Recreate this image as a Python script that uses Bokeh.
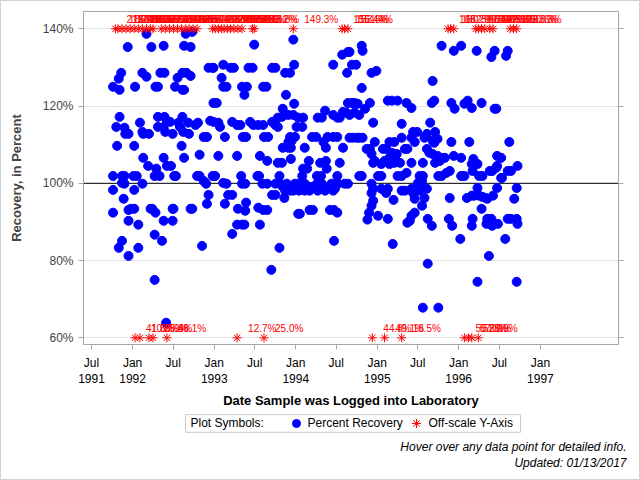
from datetime import datetime

import numpy as np
from bokeh.core.properties import value
from bokeh.embed import file_html
from bokeh.layouts import column
from bokeh.models import (ColumnDataSource, FixedTicker, LabelSet, LinearAxis,
                          PrintfTickFormatter, Range1d, Span, Title)
from bokeh.plotting import figure
from bokeh.resources import INLINE

FONT = "Liberation Sans"
GRAY = "#a6a6a6"

# Percent recovery by log-in date (decimal year), grouped by period
dates_1991_92 = [
    1992.17, 1992.65, 1992.73, 1991.94, 1992.23, 1992.38, 1992.63, 1992.71, 1991.86, 1991.83,
    1992.12, 1992.17, 1992.34, 1992.39, 1992.55, 1992.61, 1992.66, 1992.71, 1992.93, 1992.98,
    1991.76, 1991.84, 1992.03, 1992.28, 1992.31, 1992.52, 1992.61, 1992.63, 1992.99, 1991.84,
    1991.80, 1991.90, 1991.91, 1991.95, 1992.09, 1992.12, 1992.13, 1992.20, 1992.31, 1992.39,
    1992.42, 1992.46, 1992.31, 1992.38, 1992.40, 1992.49, 1992.56, 1992.58, 1992.61, 1992.62,
    1992.68, 1992.69, 1992.77, 1992.80, 1992.87, 1992.91, 1992.95, 1991.81, 1992.02, 1992.60,
    1992.82, 1992.13, 1992.38, 1992.63, 1992.19, 1992.29, 1992.42, 1992.47, 1991.76, 1991.87,
    1991.90, 1992.01, 1992.05, 1992.27, 1992.33, 1992.51, 1992.53, 1992.79, 1992.82, 1992.98,
    1991.87, 1991.90, 1992.12, 1992.87, 1992.90, 1991.76, 1992.02, 1992.93, 1991.89, 1992.91,
    1991.76, 1991.95, 1991.98, 1992.02, 1992.22, 1992.24, 1992.28, 1992.49, 1992.50, 1992.71,
    1992.73, 1991.95, 1992.07, 1992.38, 1992.49, 1992.27, 1991.87, 1991.83, 1991.95, 1992.07,
    1992.36, 1992.85, 1992.27, 1992.41,
]
recovery_1991_92 = [
    138.7, 138.7, 139.2, 135.3, 135.3, 135.6, 135.6, 135.3, 128.6, 127.1,
    128.6, 127.6, 128.6, 128.6, 127.3, 128.6, 128.6, 127.8, 129.9, 129.9,
    125.0, 124.2, 125.0, 125.0, 125.0, 125.0, 124.2, 124.2, 120.8, 117.2,
    114.6, 114.4, 112.8, 112.8, 115.7, 113.3, 112.8, 112.8, 117.2, 117.2,
    116.2, 115.9, 114.6, 114.6, 113.3, 112.8, 115.7, 114.6, 117.2, 113.3,
    115.7, 112.8, 115.1, 115.7, 112.0, 112.0, 116.2, 109.7, 109.7, 109.7,
    107.4, 106.6, 106.6, 106.6, 104.5, 103.8, 104.5, 104.5, 101.9, 101.9,
    101.9, 101.9, 101.9, 101.9, 101.9, 101.9, 101.9, 101.9, 101.9, 101.9,
    100.1, 99.9, 99.9, 100.6, 99.9, 98.3, 98.3, 97.0, 96.0, 94.7,
    92.4, 93.1, 93.4, 93.4, 93.4, 93.4, 92.4, 93.4, 93.4, 93.4,
    93.4, 90.3, 89.3, 90.3, 90.3, 86.7, 85.1, 83.3, 81.2, 83.3,
    85.1, 83.8, 75.0, 63.9,
]

dates_1993_94 = [
    1993.49, 1993.97, 1992.99, 1993.11, 1993.20, 1993.24, 1993.42, 1993.47, 1993.71, 1993.75,
    1993.87, 1993.93, 1993.98, 1994.46, 1994.57, 1994.64, 1994.63, 1993.09, 1993.11, 1993.15,
    1993.34, 1993.40, 1993.60, 1993.64, 1993.37, 1993.88, 1993.03, 1993.84, 1993.98, 1994.36,
    1994.64, 1992.99, 1993.05, 1993.07, 1993.22, 1993.28, 1993.32, 1993.44, 1993.48, 1993.54,
    1993.60, 1993.71, 1993.75, 1993.78, 1993.83, 1993.91, 1993.97, 1994.03, 1994.09, 1994.01,
    1994.08, 1994.27, 1994.32, 1994.46, 1994.51, 1994.54, 1994.58, 1993.78, 1993.13, 1993.35,
    1993.39, 1993.61, 1993.66, 1993.93, 1993.99, 1993.95, 1993.91, 1994.20, 1994.25, 1994.34,
    1994.39, 1994.46, 1994.51, 1993.84, 1993.91, 1993.94, 1994.11, 1994.37, 1994.58, 1993.05,
    1993.28, 1993.56, 1993.65, 1993.94, 1994.16, 1993.78, 1993.83, 1994.30, 1994.37, 1994.54,
    1994.09, 1994.14, 1994.38, 1993.01, 1993.33, 1993.53, 1993.55, 1993.80, 1994.08, 1994.26,
    1994.31, 1994.51, 1993.11, 1993.15, 1993.34, 1993.38, 1993.59, 1993.65, 1993.75, 1993.81,
    1993.84, 1993.89, 1993.93, 1993.99, 1994.03, 1994.08, 1994.11, 1994.17, 1994.21, 1994.26,
    1994.32, 1994.39, 1994.44, 1994.48, 1994.52, 1994.60, 1994.64, 1993.87, 1993.93, 1993.97,
    1994.04, 1994.11, 1994.17, 1994.27, 1994.36, 1994.46, 1993.17, 1993.22, 1993.71, 1993.75,
    1993.86, 1993.13, 1993.39, 1993.38, 1993.29, 1993.54, 1993.60, 1993.65, 1994.17, 1994.21,
    1994.42, 1994.47, 1994.51, 1994.03, 1994.05, 1993.28, 1993.34, 1993.37, 1993.56, 1993.22,
    1993.80, 1993.70, 1994.47,
]
recovery_1993_94 = [
    135.9, 137.2, 129.9, 130.7, 129.9, 129.9, 129.9, 129.9, 129.9, 129.9,
    128.6, 128.6, 130.7, 130.7, 133.3, 134.0, 128.6, 127.3, 125.0, 125.0,
    125.0, 125.0, 125.0, 125.0, 122.9, 122.9, 120.8, 119.3, 120.6, 118.8,
    120.8, 115.9, 115.7, 114.6, 115.9, 115.1, 115.1, 115.9, 115.1, 115.1,
    115.1, 115.9, 115.1, 117.0, 117.2, 117.7, 117.7, 117.0, 117.0, 114.6,
    114.6, 117.0, 117.0, 117.7, 117.0, 117.0, 118.5, 114.6, 112.0, 112.0,
    112.0, 112.0, 112.0, 112.0, 112.0, 111.0, 110.7, 112.0, 112.0, 110.7,
    112.0, 112.0, 112.0, 109.2, 109.2, 109.2, 109.2, 109.2, 109.2, 107.1,
    107.1, 107.1, 105.8, 106.3, 105.8, 105.3, 105.3, 105.3, 105.8, 105.3,
    103.8, 103.8, 103.8, 101.9, 101.9, 101.9, 101.9, 101.9, 101.9, 101.9,
    101.9, 101.9, 100.1, 99.9, 99.9, 99.9, 99.9, 99.9, 99.9, 99.9,
    99.1, 99.9, 99.1, 99.9, 99.9, 99.9, 99.9, 99.1, 99.1, 99.9,
    99.9, 99.1, 99.9, 98.6, 99.9, 99.9, 99.9, 98.1, 98.1, 98.1,
    98.1, 98.1, 98.1, 98.1, 98.1, 98.1, 97.0, 97.0, 97.0, 97.0,
    96.2, 94.7, 95.0, 92.9, 93.4, 93.7, 93.1, 93.1, 93.1, 93.1,
    93.1, 93.1, 92.4, 92.1, 92.1, 89.3, 89.3, 89.3, 89.3, 86.9,
    83.3, 77.6, 85.1,
]

dates_1994_96 = [
    1994.81, 1994.82, 1994.66, 1995.79, 1995.94, 1996.03, 1996.22, 1994.69, 1994.74, 1994.93,
    1994.99, 1994.81, 1995.68, 1994.69, 1994.72, 1994.76, 1994.85, 1994.91, 1995.13, 1995.18,
    1995.25, 1995.36, 1995.42, 1995.67, 1995.70, 1995.91, 1995.95, 1996.07, 1996.11, 1996.16,
    1996.28, 1994.62, 1994.66, 1994.72, 1994.78, 1994.95, 1995.30, 1995.65, 1995.44, 1995.49,
    1995.61, 1995.71, 1995.74, 1994.66, 1994.70, 1994.75, 1994.78, 1994.82, 1995.30, 1995.42,
    1995.58, 1995.68, 1995.70, 1994.97, 1995.15, 1995.21, 1995.46, 1995.91, 1996.13, 1994.87,
    1994.91, 1995.07, 1995.11, 1995.18, 1995.21, 1995.24, 1995.34, 1995.37, 1995.61, 1995.64,
    1995.68, 1995.74, 1995.77, 1995.83, 1995.94, 1996.03, 1994.93, 1994.97, 1995.15, 1995.19,
    1994.95, 1995.05, 1995.09, 1995.15, 1995.21, 1995.28, 1995.42, 1995.56, 1995.71, 1995.75,
    1995.80, 1996.16, 1996.18, 1996.23, 1994.78, 1994.81, 1995.01, 1995.05, 1995.25, 1995.30,
    1995.36, 1995.52, 1995.56, 1995.75, 1995.79, 1995.85, 1995.89, 1996.03, 1996.07, 1996.17,
    1996.25, 1996.29, 1994.93, 1995.50, 1995.52, 1995.55, 1994.95, 1995.05, 1995.09, 1995.13,
    1995.30, 1995.34, 1995.42, 1995.44, 1995.52, 1995.61, 1996.23, 1994.93, 1995.11, 1995.20,
    1995.46, 1995.58, 1995.89, 1996.10, 1996.16, 1996.19, 1996.25, 1996.29, 1994.95, 1994.93,
    1995.55, 1996.28, 1994.90, 1994.88, 1995.01, 1995.13, 1995.42, 1995.46, 1995.40, 1995.37,
    1995.62, 1995.88, 1995.92, 1996.17, 1996.16, 1995.67, 1995.19, 1995.62, 1995.56, 1995.75,
    1996.02,
]
recovery_1994_96 = [
    135.6, 134.3, 134.0, 135.6, 134.3, 135.6, 134.3, 130.7, 130.7, 128.6,
    129.1, 124.7, 126.5, 120.8, 120.8, 120.6, 119.3, 120.8, 121.4, 121.4,
    121.4, 120.8, 119.5, 120.8, 121.4, 120.8, 119.3, 120.6, 121.4, 119.5,
    120.8, 118.3, 117.7, 118.3, 117.7, 115.7, 115.4, 115.7, 113.3, 113.3,
    112.8, 113.3, 111.5, 111.8, 111.8, 111.8, 111.8, 111.8, 111.8, 111.8,
    111.8, 111.0, 110.5, 110.7, 110.7, 110.7, 110.7, 110.7, 110.7, 108.9,
    108.9, 108.9, 108.9, 107.9, 106.6, 107.6, 108.9, 108.9, 108.9, 107.9,
    107.6, 107.1, 105.8, 106.6, 107.1, 106.6, 107.6, 105.8, 106.6, 105.8,
    105.3, 105.0, 105.8, 105.0, 105.3, 105.3, 105.3, 105.3, 105.3, 105.8,
    106.6, 105.0, 106.3, 105.0, 101.9, 101.9, 101.9, 101.9, 101.9, 101.9,
    102.7, 101.9, 101.9, 101.9, 101.9, 102.7, 103.2, 101.9, 101.9, 103.2,
    101.9, 101.9, 99.9, 100.1, 99.4, 100.6, 98.6, 98.6, 98.1, 98.6,
    98.1, 98.1, 98.6, 97.5, 98.1, 98.6, 98.8, 97.5, 97.5, 95.7,
    96.0, 96.2, 96.2, 96.2, 96.8, 96.8, 96.8, 96.5, 95.5, 94.2,
    94.2, 93.4, 92.4, 90.6, 91.6, 90.8, 91.6, 92.4, 90.3, 89.8,
    90.8, 90.8, 89.0, 90.8, 89.0, 89.0, 84.3, 79.2, 67.8, 67.8,
    85.6,
]

dates_1996 = [
    1996.37, 1996.57, 1996.23, 1996.71, 1996.44, 1996.46, 1996.62, 1996.47, 1996.52, 1996.47,
    1996.46, 1996.72, 1996.38, 1996.41, 1996.60, 1996.64, 1996.52, 1996.53, 1996.47, 1996.71,
    1996.33, 1996.35, 1996.42, 1996.68, 1996.35, 1996.40, 1996.60, 1996.64, 1996.71, 1996.34,
    1996.41, 1996.48, 1996.72, 1996.44, 1996.40, 1996.60, 1996.58,
]
recovery_1996 = [
    81.2, 85.6, 74.5, 74.5, 119.3, 119.3, 110.7, 107.1, 106.6, 104.5,
    104.0, 104.5, 103.2, 103.2, 103.2, 103.2, 101.4, 101.4, 98.8, 98.8,
    96.2, 96.0, 96.8, 96.0, 90.8, 90.8, 90.8, 90.8, 90.8, 89.5,
    89.0, 89.5, 89.5, 134.3, 132.7, 134.3, 133.0,
]

# Results outside the 60%-140% window: drawn at the edge, labelled with the true value
high_dates = [
    1991.79, 1991.82, 1991.87, 1991.92, 1991.97, 1992.02, 1992.07, 1992.12, 1992.17, 1992.22,
    1992.25, 1992.35, 1992.40, 1992.45, 1992.50, 1992.55, 1992.60, 1992.65, 1992.69, 1992.74,
    1992.79, 1992.98, 1993.01, 1993.05, 1993.09, 1993.12, 1993.16, 1993.20, 1993.24, 1993.29,
    1993.34, 1993.47, 1993.49, 1993.97, 1994.57, 1994.60, 1994.64, 1995.87, 1995.90, 1995.94,
    1996.21, 1996.24, 1996.28, 1996.32, 1996.38, 1996.42, 1996.63, 1996.67, 1996.71,
]
high_values = [
    213.6, 186.4, 150.0, 171.2, 246.7, 158.3, 190.9, 163.5, 205.1, 148.2,
    177.4, 160.6, 231.0, 152.9, 184.3, 166.7, 199.5, 145.8, 173.1, 210.4,
    157.2, 168.9, 192.6, 151.3, 225.5, 180.7, 146.9, 162.4, 201.8, 175.0,
    155.6, 183.2, 178.8, 149.3, 156.4, 153.6, 151.4, 168.2, 180.5, 162.9,
    171.4, 154.0, 186.2, 159.7, 197.9, 165.3, 172.8, 150.6, 193.3,
]
low_dates = [1992.03, 1992.09, 1992.20, 1992.25, 1992.42, 1993.28, 1993.61,
             1994.94, 1995.09, 1995.30, 1996.07, 1996.12, 1996.16, 1996.24]
low_values = [41.6, 10.8, 33.9, 25.8, 48.1, 12.7, 25.0,
              44.8, 49.1, 18.5, 50.2, 57.3, 52.0, 50.9]

y_ticks = [60, 80, 100, 120, 140]
x_tick_dates = [(1991, 7), (1992, 1), (1992, 7), (1993, 1), (1993, 7), (1994, 1),
                (1994, 7), (1995, 1), (1995, 7), (1996, 1), (1996, 7), (1997, 1)]
x_tick_labels = ["Jul\n1991", "Jan\n1992", "Jul", "Jan\n1993", "Jul", "Jan\n1994",
                 "Jul", "Jan\n1995", "Jul", "Jan\n1996", "Jul", "Jan\n1997"]

legend_title = "Plot Symbols:"
legend_labels = ["Percent Recovery", "Off-scale Y-Axis"]
footnotes = ["Hover over any data point for detailed info.", "Updated: 01/13/2017"]

EPOCH = datetime(1970, 1, 1)


def ms(d):
    return (d - EPOCH).total_seconds() * 1000.0


def decimal_year_ms(dy):
    yr = int(dy)
    start, end = datetime(yr, 1, 1), datetime(yr + 1, 1, 1)
    return ms(start + (end - start) * (dy - yr))


all_dates = dates_1991_92 + dates_1993_94 + dates_1994_96 + dates_1996
all_recovery = recovery_1991_92 + recovery_1993_94 + recovery_1994_96 + recovery_1996
points = ColumnDataSource(dict(x=[decimal_year_ms(d) for d in all_dates], y=all_recovery))

off_dates = high_dates + low_dates
off_values = high_values + low_values
offscale = ColumnDataSource(dict(
    x=[decimal_year_ms(d) for d in off_dates],
    y=list(np.clip(off_values, 60, 140)),
    label=[f"{v:.1f}%" for v in off_values],
))

# ---------------- main scatter plot ----------------
p = figure(width=638, height=410, x_axis_type="datetime", output_backend="svg",
           toolbar_location=None,
           x_range=Range1d(ms(datetime(1991, 5, 26)), ms(datetime(1997, 12, 17))),
           y_range=Range1d(58.27, 144.48),
           min_border_left=82, min_border_right=21, min_border_top=10, min_border_bottom=66)
p.outline_line_color = GRAY
p.background_fill_color = "white"
p.border_fill_color = "white"

p.xgrid.visible = False
p.ygrid.ticker = FixedTicker(ticks=y_ticks)
p.ygrid.grid_line_color = "#e3e3e3"

p.add_layout(Span(location=100, dimension="width", line_color="black", line_width=1,
                  level="underlay"))

xa = p.xaxis[0]
tick_ms = [ms(datetime(y, m, 1)) for y, m in x_tick_dates]
xa.ticker = FixedTicker(ticks=tick_ms)
xa.major_label_overrides = {t: lab for t, lab in zip(tick_ms, x_tick_labels)}
xa.axis_label = "Date Sample was Logged into Laboratory"
xa.axis_line_color = GRAY
xa.major_tick_line_color = GRAY
xa.major_tick_out = 5
xa.major_tick_in = 0
xa.minor_tick_line_color = None
xa.major_label_text_font = FONT
xa.major_label_text_font_size = "12px"
xa.major_label_text_color = "black"
xa.major_label_standoff = 6
xa.axis_label_text_font = FONT
xa.axis_label_text_font_size = "13px"
xa.axis_label_text_font_style = "bold"
xa.axis_label_text_color = "black"
xa.axis_label_standoff = 4

ya = p.yaxis[0]
ya.ticker = FixedTicker(ticks=y_ticks)
ya.formatter = PrintfTickFormatter(format="%d%%")
ya.axis_label = "Recovery, in Percent"
ya.axis_line_color = GRAY
ya.major_tick_line_color = GRAY
ya.major_tick_out = 5
ya.major_tick_in = 0
ya.minor_tick_line_color = None
ya.major_label_text_font = FONT
ya.major_label_text_font_size = "12px"
ya.major_label_standoff = 5
ya.axis_label_text_font = FONT
ya.axis_label_text_font_size = "13px"
ya.axis_label_text_font_style = "bold"
ya.axis_label_standoff = 16

# right axis: ticks only
ra = LinearAxis(ticker=FixedTicker(ticks=y_ticks),
                major_label_overrides={t: "" for t in y_ticks})
ra.axis_line_color = GRAY
ra.major_tick_line_color = GRAY
ra.major_tick_out = 5
ra.major_tick_in = 0
ra.minor_tick_line_color = None
ra.major_label_standoff = 0
p.add_layout(ra, "right")

p.scatter("x", "y", source=points, size=9, marker="circle",
          fill_color="#0000ff", line_color="#0000ff")
p.scatter("x", "y", source=offscale, size=9, marker="asterisk",
          line_color="#ff0000", line_width=1)
p.add_layout(LabelSet(x="x", y="y", text="label", source=offscale,
                      x_offset=11, y_offset=9, text_baseline="middle",
                      text_font=value(FONT), text_font_size="10px", text_color="#ff0000"))

# ---------------- legend strip and footnotes ----------------
# The strip's frame lines up with the main frame, so its ranges are in page pixels.
f = figure(width=638, height=68, output_backend="svg", toolbar_location=None,
           x_range=Range1d(83, 618), y_range=Range1d(436, 411),
           min_border_top=0, min_border_bottom=42, x_axis_type=None, y_axis_type=None)
f.outline_line_color = None
f.grid.visible = False
f.background_fill_color = "white"
f.border_fill_color = "white"

f.quad(left=185, right=520, top=414, bottom=431, fill_color="white", line_color="#c8c8c8")
f.text(x=[190, 307, 428], y=[422.5, 422.5, 422.5], text=[legend_title] + legend_labels,
       text_font=value(FONT), text_font_size="12px", text_baseline="middle",
       text_align="left", text_color="black")
f.scatter(x=[296], y=[422.5], size=8, marker="circle", fill_color="#0000ff",
          line_color="#0000ff")
f.scatter(x=[416], y=[422.5], size=9, marker="asterisk", line_color="#ff0000")

for note in footnotes:
    f.add_layout(Title(text=note, align="right", offset=-8, standoff=0,
                       text_font=FONT, text_font_size="12px", text_font_style="italic",
                       text_color="black"), "below")

layout = column(p, f, spacing=0, styles={"border": "1px solid #d2d2d2"})
open("out.html", "w").write(file_html(layout, INLINE))
